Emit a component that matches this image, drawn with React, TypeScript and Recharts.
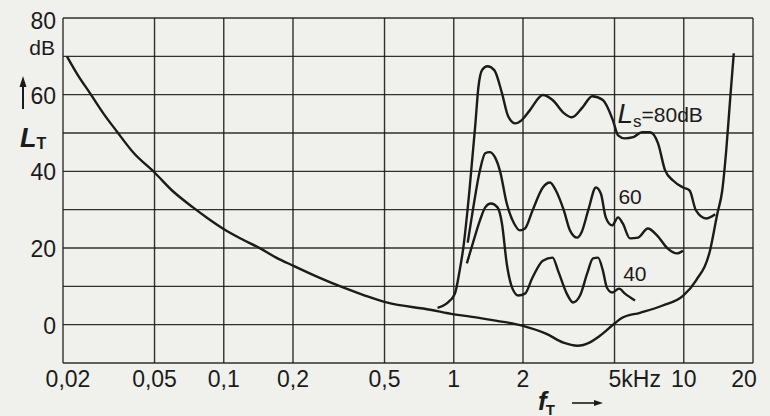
import React from 'react';
import { LineChart, Line, XAxis, YAxis, CartesianGrid, ReferenceDot } from 'recharts';

const FONT = '"Liberation Sans Narrow", "Arial Narrow", "Liberation Sans", Arial, sans-serif';
const INK = '#1b1b1b';
const PAPER = '#f0f0ec';

// axis ticks (kHz / dB)
const freqTicks = [0.02, 0.05, 0.1, 0.2, 0.5, 1, 2, 5, 10, 20];
const freqTickLabels = ['0,02', '0,05', '0,1', '0,2', '0,5', '1', '2', '5kHz', '10', '20'];
const levelTicks = [-10, 0, 10, 20, 30, 40, 50, 60, 70, 80];
const levelTickLabels = ['', '0', '', '20', '', '40', '', '60', '', '80'];

// threshold in quiet
const quietF = [0.0208, 0.0232, 0.0262, 0.0299, 0.0343, 0.0407, 0.05, 0.0596, 0.0735, 0.0854, 0.099, 0.119, 0.144, 0.169, 0.2, 0.257, 0.33, 0.411, 0.51, 0.79, 1.0, 1.18, 1.54, 2.0, 2.53, 3.0, 3.45, 3.91, 4.32, 5.0, 5.4, 6.45, 8.1, 9.92, 11.3, 13.0, 14.0, 14.7, 15.3, 15.9, 16.5];
const quietL = [70, 65.1, 60.4, 55.2, 50.4, 44.7, 39.7, 35.0, 30.6, 27.7, 25.1, 22.4, 19.9, 17.5, 15.4, 12.4, 9.7, 7.6, 5.8, 3.9, 2.7, 2.1, 1.0, -0.3, -2.4, -4.7, -5.5, -4.6, -2.9, 0.3, 1.8, 3.1, 5.0, 7.5, 11.5, 19.3, 29, 35, 45.5, 58.6, 70.8];

// masked threshold, Ls = 80 dB
const ls80F = [0.85, 0.93, 1.01, 1.06, 1.1, 1.17, 1.24, 1.28, 1.33, 1.4, 1.5, 1.62, 1.72, 1.85, 1.97, 2.14, 2.44, 2.69, 3.01, 3.26, 3.63, 4.0, 4.45, 4.92, 5.18, 5.55, 6.03, 6.58, 7.13, 7.73, 8.29, 8.98, 9.92, 10.6, 11.3, 12.5, 13.7];
const ls80L = [4.4, 5.5, 8, 14, 20, 35, 52, 62, 66.5, 67.4, 66.4, 60.4, 54.5, 52.5, 53.3, 55.9, 59.9, 58.6, 55.2, 54.1, 56.7, 59.6, 58.6, 53.3, 49.4, 48.6, 48.9, 50.2, 50.2, 47.3, 40.3, 37.6, 35.8, 35, 29.8, 27.7, 28.8];

// Ls = 60 dB
const ls60F = [1.15, 1.21, 1.3, 1.37, 1.43, 1.51, 1.59, 1.7, 1.83, 1.94, 2.04, 2.2, 2.44, 2.62, 2.78, 3.01, 3.2, 3.44, 3.6, 3.85, 4.15, 4.36, 4.58, 4.88, 5.18, 5.43, 5.84, 6.33, 6.98, 7.65, 8.5, 9.35, 9.92];
const ls60L = [21.4, 29.8, 40.3, 44.7, 45, 43.7, 40, 31.6, 26.4, 24.6, 25.1, 29.8, 35.8, 37.1, 35, 29.8, 24.6, 22.7, 24.2, 30, 35.8, 34.2, 28, 25.9, 28, 26.4, 22.5, 22.7, 25.1, 23.3, 19.9, 18.6, 19.3];

// Ls = 40 dB
const ls40F = [1.14, 1.21, 1.3, 1.37, 1.45, 1.55, 1.62, 1.7, 1.8, 1.91, 2.04, 2.2, 2.44, 2.69, 2.84, 3.1, 3.3, 3.54, 3.8, 4.03, 4.24, 4.45, 4.63, 4.88, 5.23, 5.55, 6.14];
const ls40L = [16, 21.2, 27.2, 30.6, 31.6, 30.6, 26.4, 15.9, 9.4, 7.6, 8.1, 12.3, 16.7, 17.5, 14.1, 8.1, 5.8, 7.6, 13.3, 17.3, 17.5, 14.1, 9.7, 8.4, 9.4, 8.1, 6.3];

const rows = (f: number[], l: number[]) => f.map((v, i) => ({ f: v, L: l[i] }));

const FreqTick = (props: any) => {
  const { x, y, payload } = props;
  const i = freqTicks.indexOf(payload.value);
  const label = freqTickLabels[i];
  if (label === '5kHz') {
    return (
      <text x={x - 6} y={y + 24} textAnchor="start" fontFamily={FONT} fontSize={23} fill={INK}>
        {label}
      </text>
    );
  }
  let dx = 0;
  if (i === 0) dx = 5;
  if (i === freqTicks.length - 1) dx = -9;
  return (
    <text x={x + dx} y={y + 24} textAnchor="middle" fontFamily={FONT} fontSize={23} fill={INK}>
      {label}
    </text>
  );
};

const LevelTick = (props: any) => {
  const { x, y, payload } = props;
  const v = payload.value;
  const label = levelTickLabels[levelTicks.indexOf(v)];
  const tx = x - 7;
  return (
    <g>
      {label && (
        <text x={tx} y={y + (v === 80 ? 11 : 9)} textAnchor="end" fontFamily={FONT} fontSize={23} fill={INK}>
          {label}
        </text>
      )}
      {v === 80 && (
        <text x={tx - 1} y={y + 37} textAnchor="end" fontFamily={FONT} fontSize={21} fill={INK}>
          dB
        </text>
      )}
      {v === 60 && (
        <g>
          <line x1={23} y1={109} x2={23} y2={82} stroke={INK} strokeWidth={2} />
          <path d="M19.5,87 L23,76 L26.5,87 Z" fill={INK} />
        </g>
      )}
      {v === 50 && (
        <text x={20} y={y + 14} fontFamily={FONT} fill={INK} fontWeight="bold">
          <tspan fontSize={27} fontStyle="italic">L</tspan>
          <tspan fontSize={16} dy={2}>T</tspan>
        </text>
      )}
    </g>
  );
};

const FreqTitle = (props: any) => {
  const vb = props.viewBox || { x: 63, y: 363 };
  const x0 = vb.x + 475;
  const y0 = vb.y;
  return (
    <g>
      <text x={x0} y={y0 + 47} fontFamily={FONT} fill={INK} fontWeight="bold">
        <tspan fontSize={26} fontStyle="italic">f</tspan>
        <tspan fontSize={15} dy={5} dx={-1}>T</tspan>
      </text>
      <line x1={x0 + 34} y1={y0 + 40} x2={x0 + 60} y2={y0 + 40} stroke={INK} strokeWidth={1.6} />
      <path d={`M${x0 + 56},${y0 + 37} L${x0 + 65},${y0 + 40} L${x0 + 56},${y0 + 43} Z`} fill={INK} />
    </g>
  );
};

const CurveLabel = (text: string, kind: 'ls' | 'num') => (props: any) => {
  const { cx, cy } = props;
  if (kind === 'ls') {
    return (
      <text x={cx} y={cy} fontFamily={FONT} fill={INK}>
        <tspan fontSize={28} fontStyle="italic">L</tspan>
        <tspan fontSize={17} dy={4}>s</tspan>
        <tspan fontSize={21} dy={-5}>{text}</tspan>
      </text>
    );
  }
  return (
    <text x={cx} y={cy} fontFamily={FONT} fontSize={21} fill={INK}>
      {text}
    </text>
  );
};

export default function App() {
  return (
    <div style={{ position: 'absolute', left: 0, top: 0, width: 770, height: 416, background: PAPER }}>
      <LineChart width={770} height={416} margin={{ top: 18, right: 17, bottom: 0, left: 8 }}>
        <CartesianGrid stroke={INK} strokeWidth={1.4} strokeOpacity={0.9} />
        <XAxis
          type="number"
          dataKey="f"
          scale="log"
          domain={[0.02, 20]}
          ticks={freqTicks}
          interval={0}
          allowDataOverflow
          axisLine={false}
          tickLine={false}
          tickSize={0}
          tickMargin={0}
          height={53}
          tick={<FreqTick />}
          label={{ content: <FreqTitle /> }}
        />
        <YAxis
          type="number"
          domain={[-10, 80]}
          ticks={levelTicks}
          interval={0}
          allowDataOverflow
          axisLine={false}
          tickLine={false}
          tickSize={0}
          tickMargin={0}
          width={55}
          tick={<LevelTick />}
        />
        <Line data={rows(quietF, quietL)} dataKey="L" type="monotone" stroke={INK} strokeWidth={2.4} dot={false} isAnimationActive={false} />
        <Line data={rows(ls80F, ls80L)} dataKey="L" type="monotone" stroke={INK} strokeWidth={2.4} dot={false} isAnimationActive={false} />
        <Line data={rows(ls60F, ls60L)} dataKey="L" type="monotone" stroke={INK} strokeWidth={2.4} dot={false} isAnimationActive={false} />
        <Line data={rows(ls40F, ls40L)} dataKey="L" type="monotone" stroke={INK} strokeWidth={2.4} dot={false} isAnimationActive={false} />
        <ReferenceDot x={5.15} y={52.6} r={0} shape={CurveLabel('=80dB', 'ls')} />
        <ReferenceDot x={5.2} y={31.5} r={0} shape={CurveLabel('60', 'num')} />
        <ReferenceDot x={5.45} y={11.5} r={0} shape={CurveLabel('40', 'num')} />
      </LineChart>
    </div>
  );
}
